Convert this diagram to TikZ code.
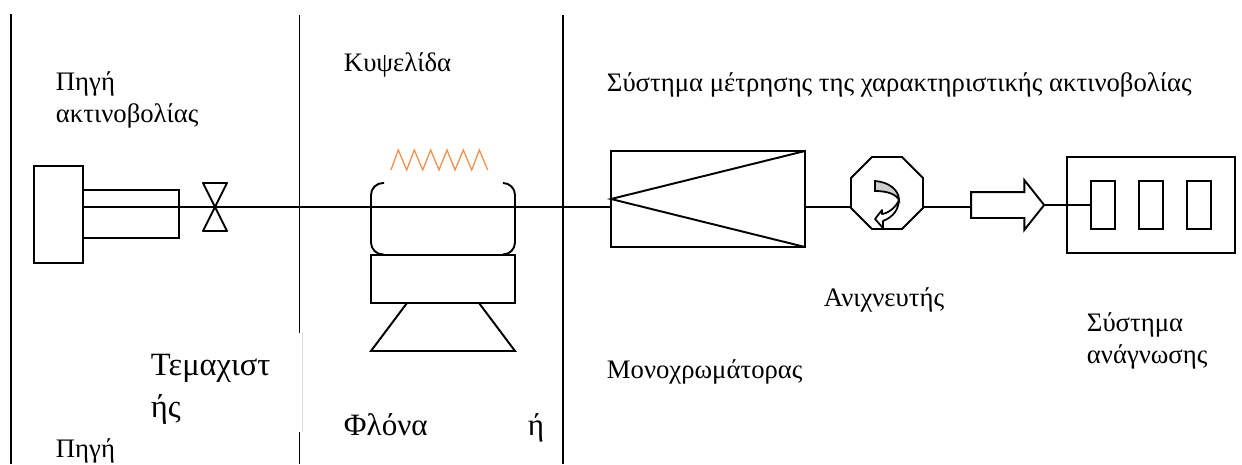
\documentclass[tikz,border=0pt]{standalone}
\usepackage{fontspec}
\setmainfont{Liberation Serif}
\usetikzlibrary{shapes.geometric,shapes.arrows}
\definecolor{heatcol}{RGB}{243,146,80}
\definecolor{foldcol}{RGB}{205,205,205}

\begin{document}
\begin{tikzpicture}[
  x=0.02cm, y=-0.02cm,
  line width=1.1pt,
  box/.style={rectangle, draw=black, minimum width=#1, inner sep=0pt, outer sep=0pt},
  lbl/.style={anchor=base west, inner sep=0pt, font=\fontsize{15.2}{18}\selectfont},
  biglbl/.style={anchor=base west, inner sep=0pt, font=\fontsize{18.5}{22}\selectfont},
  midlbl/.style={anchor=base west, inner sep=0pt, font=\fontsize{17.7}{21}\selectfont},
]
  \useasboundingbox (0,0) rectangle (1242,464);

  % Panel dividers
  \coordinate (divAtop) at (11,14);
  \coordinate (divAend) at (11,464);
  \coordinate (divBtop) at (299.5,15);
  \coordinate (divBgap) at (299.5,333);
  \coordinate (divBres) at (299.5,432);
  \coordinate (divBend) at (299.5,464);
  \coordinate (divCtop) at (563,15);
  \coordinate (divCgap) at (563,397);
  \coordinate (divCend) at (563,464);
  \draw (divAtop) -- (divAend);
  \draw (divBtop) -- (divBgap);
  \draw[black!15, line width=0.6pt] ([xshift=1.5pt]divBgap) -- ([xshift=1.5pt]divBres);
  \draw (divBres) -- (divBend);
  \draw (divCtop) -- (divCgap);
  \draw[line width=0.7pt] (divCgap) -- (divCend);

  % Source
  \node[box=0.98cm, minimum height=1.94cm] (lamp) at (58.5,214.5) {};
  \node[box=1.92cm, minimum height=0.96cm] (tube) at (131,214) {};
  \coordinate (valve) at (215,207);
  \draw[line join=round] (valve) -- ++(-12,-24) -- ++(24,0) -- ++(-24,48) -- ++(24,0) -- cycle;

  % Cell
  \draw[rounded corners=0.24cm] (384,183) -- (371,183) -- (371,254.5) -- (384,254.5);
  \draw[rounded corners=0.24cm] (503,183) -- (515,183) -- (515,254.5) -- (503,254.5);
  \node[box=2.88cm, minimum height=0.96cm] (base) at (443,279) {};
  \draw (407,303) -- (371,351) -- (515,351) -- (479,303);
  \draw[heatcol, line width=0.75pt] (391,170) -- (398.3,150) -- (406.7,170) -- (414.3,150) -- (422.7,170)
    -- (430.7,150) -- (439,170) -- (447,150) -- (455,170) -- (463.3,150) -- (471.7,170) -- (479.3,150) -- (487.7,170);

  % Monochromator
  \node[box=3.88cm, minimum height=1.92cm] (mono) at (708,199) {};
  \draw (mono.north east) -- (mono.west) -- (mono.south east);

  % Detector
  \node[regular polygon, regular polygon sides=8, draw=black, minimum size=1.559cm,
        inner sep=0pt, outer sep=0pt] (det) at (887,193) {};
  \draw[fill=foldcol, line width=1pt] (875,181) .. controls (889,182) and (899,190) .. (899,200)
    .. controls (896,194) and (887,191) .. (875,191) -- cycle;
  \draw[fill=white, line width=1pt, line join=round] (899,198) .. controls (899,210) and (893,217) .. (883,221)
    -- (883,228) -- (875,219) -- (882,210) -- (882,214) .. controls (889,213) and (896,207) .. (899,200);

  % Output arrow
  \node[single arrow, draw=black, minimum width=0.96cm, minimum height=1.46cm,
        single arrow head extend=0.24cm, single arrow tip angle=103,
        inner xsep=0pt, inner ysep=0.24cm, outer sep=0pt] (outarr) at (1002.5,205) {};

  % Readout
  \node[box=3.36cm, minimum height=1.92cm] (read) at (1151,205) {};
  \foreach \i/\xx in {1/1103,2/1151,3/1199}
    \node[box=0.48cm, minimum height=0.96cm] (cell\i) at (\xx,205) {};

  % Beam
  \draw (tube.west |- valve) -- (valve) -- (mono.west |- valve);
  \draw (mono.east |- valve) -- (det.west |- valve);
  \draw (det.east |- valve) -- (outarr.west |- valve);
  \draw (outarr.east) -- (cell1.west);

  % Labels
  \node[lbl] (srcA) at (55,90) {Πηγή};
  \node[lbl] (srcB) at (55,122) {ακτινοβολίας};
  \node[lbl] (celltxt) at (343,71) {Κυψελίδα};
  \node[lbl] (meas) at (606,91) {Σύστημα μέτρησης της χαρακτηριστικής ακτινοβολίας};
  \node[lbl] (dettxt) at (823,306) {Ανιχνευτής};
  \node[lbl] (readA) at (1086,331) {Σύστημα};
  \node[lbl] (readB) at (1086,363) {ανάγνωσης};
  \node[lbl] (monotxt) at (606,378) {Μονοχρωμάτορας};
  \node[biglbl] (chopA) at (150,375) {Τεμαχιστ};
  \node[biglbl] (chopB) at (150,417) {ής};
  \node[midlbl] (flameA) at (343,435) {Φλόνα};
  \node[midlbl] (flameB) at (527,435) {ή};
  \node[lbl] (srcC) at (55,457) {Πηγή};
\end{tikzpicture}
\end{document}
